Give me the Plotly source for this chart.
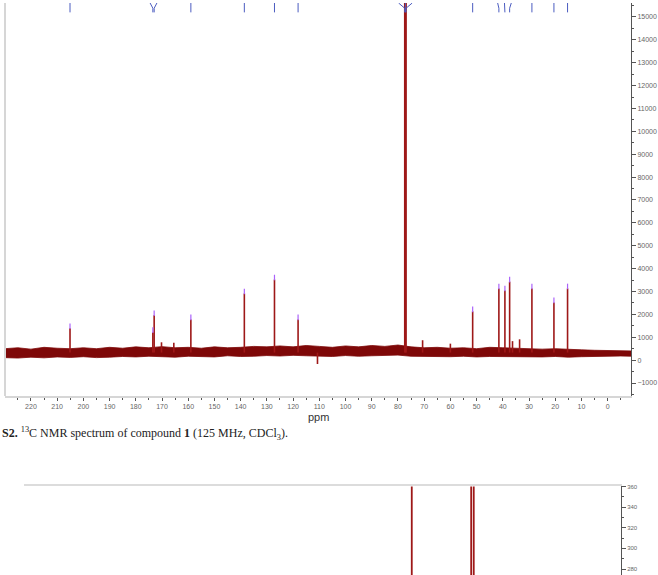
import plotly.graph_objects as go

W, H = 658, 575

# ---------------- 13C spectrum (top) ----------------
c_ppm = [205.1, 173.5, 173.0, 170.2, 159.0, 138.6, 127.1, 118.1,
         77.41, 77.16, 76.91, 70.6, 51.5, 41.5, 39.2, 37.4, 36.3, 33.6,
         28.9, 20.5, 15.3]
c_int = [1390, 1220, 1960, 780, 1780, 2910, 3520, 1780,
         17000, 17500, 17000, 870, 2130, 3130, 3040, 3430, 830, 910,
         3130, 2520, 3130]
c_labeled = [True, True, True, False, True, True, True, True,
             True, True, True, False, True, True, True, True, False, False,
             True, True, True]

baseline_level = 330
base_ppm = [230, 225, 220, 215, 210, 205, 200, 195, 190, 185, 180, 175, 170,
            165, 160, 155, 150, 145, 140, 135, 130, 125, 120, 115, 110, 105,
            100, 95, 90, 85, 80, 75, 70, 65, 60, 55, 50, 45, 40, 35, 30, 25,
            20, 15, 10, 5, 0, -5, -10]
base_hi = [500, 540, 480, 560, 520, 500, 540, 500, 560, 520, 580, 540, 590,
           540, 560, 520, 580, 540, 560, 600, 580, 620, 580, 640, 600, 560,
           620, 580, 640, 600, 660, 580, 540, 560, 520, 540, 500, 560, 540,
           520, 500, 480, 500, 460, 450, 430, 420, 410, 400]
base_lo = [110, 90, 130, 100, 140, 120, 150, 110, 130, 160, 140, 170, 150,
           130, 170, 150, 140, 190, 160, 170, 200, 180, 210, 190, 180, 160,
           200, 170, 190, 210, 220, 170, 160, 180, 150, 170, 140, 160, 150,
           130, 150, 140, 160, 130, 150, 170, 160, 180, 170]
artifact_ppm = [110.7, 165.5, 60.0]
artifact_int = [-170, 760, 720]

x_tick_vals = [220, 210, 200, 190, 180, 170, 160, 150, 140, 130, 120, 110,
               100, 90, 80, 70, 60, 50, 40, 30, 20, 10, 0]
y_tick_vals = [15000, 14000, 13000, 12000, 11000, 10000, 9000, 8000, 7000,
               6000, 5000, 4000, 3000, 2000, 1000, 0, -1000]

# ---------------- second spectrum (bottom, partially visible) ----------------
h_ppm = [3.18, 2.135, 2.09]
h_int = [1500, 1400, 1400]
y2_tick_vals = [360, 340, 320, 300, 280]

caption = ("<b>S2.</b> <sup>13</sup>C NMR spectrum of compound <b>1</b> "
           "(125 MHz, CDCl<sub>3</sub>).")

# ---------------- geometry (pixels) ----------------
def px(x):
    return x / W

def py(y):
    return 1 - y / H

top_x_dom = [px(5), px(631)]
top_y_dom = [py(395), 1.0]
top_xrange = [229.9, -8.9]
top_yrange = [-1565, 15609]

bot_x_dom = [px(24), px(621)]
bot_y_dom = [0.0, py(486)]
bot_xrange = [10.0, -0.5]
bot_yrange = [274.2, 360]

RED = "#9e1818"
DARK = "#7e0808"
BLUE = "#4b5cc0"

fig = go.Figure()

# noise band
fig.add_trace(go.Scatter(x=base_ppm, y=base_lo, mode="lines",
                         line=dict(color=DARK, width=0.8), hoverinfo="skip",
                         showlegend=False, xaxis="x", yaxis="y"))
fig.add_trace(go.Scatter(x=base_ppm, y=base_hi, mode="lines", fill="tonexty",
                         fillcolor=DARK, line=dict(color=DARK, width=0.8),
                         hoverinfo="skip", showlegend=False, xaxis="x", yaxis="y"))

# peaks as sticks
sx, sy = [], []
for p, h in zip(c_ppm + artifact_ppm, c_int + artifact_int):
    sx += [p, p, None]
    sy += [baseline_level, h, None]
fig.add_trace(go.Scatter(x=sx, y=sy, mode="lines", line=dict(color=RED, width=1.6),
                         hoverinfo="skip", showlegend=False, xaxis="x", yaxis="y"))

# peak pick markers
lab_ppm = [p for p, l in zip(c_ppm, c_labeled) if l]
lab_int = [h for h, l in zip(c_int, c_labeled) if l]
fig.add_trace(go.Scatter(x=lab_ppm, y=[h + 90 for h in lab_int], mode="markers",
                         marker=dict(symbol="line-ns-open", size=4,
                                     line=dict(color=BLUE, width=1.2)),
                         hoverinfo="skip", showlegend=False, xaxis="x", yaxis="y"))

# leader lines at the top (label positions spread within close groups)
gap = 2.6
groups = []
for p in lab_ppm:
    if groups and abs(groups[-1][-1] - p) < gap:
        groups[-1].append(p)
    else:
        groups.append([p])
lx, ly = [], []
ytop, ymid, ybot = top_yrange[1], 15380, 15200
for g in groups:
    c = sum(g) / len(g)
    n = len(g)
    for i, p in enumerate(g):
        lab = c + (((n - 1) / 2) - i) * gap
        lx += [lab, p, p, None]
        ly += [ytop, ymid, ybot, None]
fig.add_trace(go.Scatter(x=lx, y=ly, mode="lines", line=dict(color=BLUE, width=1),
                         hoverinfo="skip", showlegend=False, xaxis="x", yaxis="y"))

# bottom spectrum
bx, by = [], []
for p, h in zip(h_ppm, h_int):
    bx += [p, p, None]
    by += [0, h, None]
fig.add_trace(go.Scatter(x=bx, y=by, mode="lines", line=dict(color=RED, width=1.8),
                         hoverinfo="skip", showlegend=False, xaxis="x2", yaxis="y2"))

tickfont = dict(family="Liberation Sans, Arial, sans-serif", size=7, color="#666666")

fig.update_layout(
    width=W, height=H,
    margin=dict(l=0, r=0, t=0, b=0),
    paper_bgcolor="white", plot_bgcolor="white",
    showlegend=False,
    xaxis=dict(domain=top_x_dom, range=top_xrange, anchor="y",
               tickvals=x_tick_vals, ticks="outside", ticklen=3, tickwidth=1,
               tickcolor="#555", tickfont=tickfont, tickformat="d",
               minor=dict(dtick=5, tick0=0, ticks="outside", ticklen=2, tickcolor="#555"),
               showline=True, linecolor="#d6d6d6", linewidth=2,
               showgrid=False, zeroline=False),
    yaxis=dict(domain=top_y_dom, range=top_yrange, anchor="x", side="right",
               tickvals=y_tick_vals, ticks="outside", ticklen=4, tickwidth=1,
               tickcolor="#555", tickfont=tickfont, tickformat="d",
               minor=dict(dtick=500, tick0=0, ticks="outside", ticklen=2, tickcolor="#555"),
               showline=True, linecolor="#555", linewidth=1,
               showgrid=False, zeroline=False),
    xaxis2=dict(domain=bot_x_dom, range=bot_xrange, anchor="y2", side="top",
                showticklabels=False, ticks="", showline=True,
                linecolor="#dcdcdc", linewidth=2, showgrid=False, zeroline=False),
    yaxis2=dict(domain=bot_y_dom, range=bot_yrange, anchor="x2", side="right",
                tickvals=y2_tick_vals, ticks="outside", ticklen=4, tickwidth=1,
                tickcolor="#555", tickformat="d",
                tickfont=dict(family="Liberation Sans, Arial, sans-serif", size=6, color="#666666"),
                minor=dict(dtick=10, tick0=0, ticks="outside", ticklen=2, tickcolor="#555"),
                showline=True, linecolor="#555", linewidth=1,
                showgrid=False, zeroline=False),
    shapes=[dict(type="line", xref="x domain", yref="y domain",
                 x0=0, x1=0, y0=0, y1=1, line=dict(color="#d6d6d6", width=2))],
    annotations=[
        dict(text="ppm", xref="x domain", yref="paper", x=0.5, y=py(416),
             xanchor="center", yanchor="middle", showarrow=False,
             font=dict(family="Liberation Sans, Arial, sans-serif", size=11, color="#333")),
        dict(text=caption, xref="paper", yref="paper",
             x=0.0, y=py(433), xanchor="left", yanchor="middle",
             showarrow=False,
             font=dict(family="Liberation Serif, Times New Roman, serif",
                       size=12, color="#222"))],
)

fig.write_html("out.html")
